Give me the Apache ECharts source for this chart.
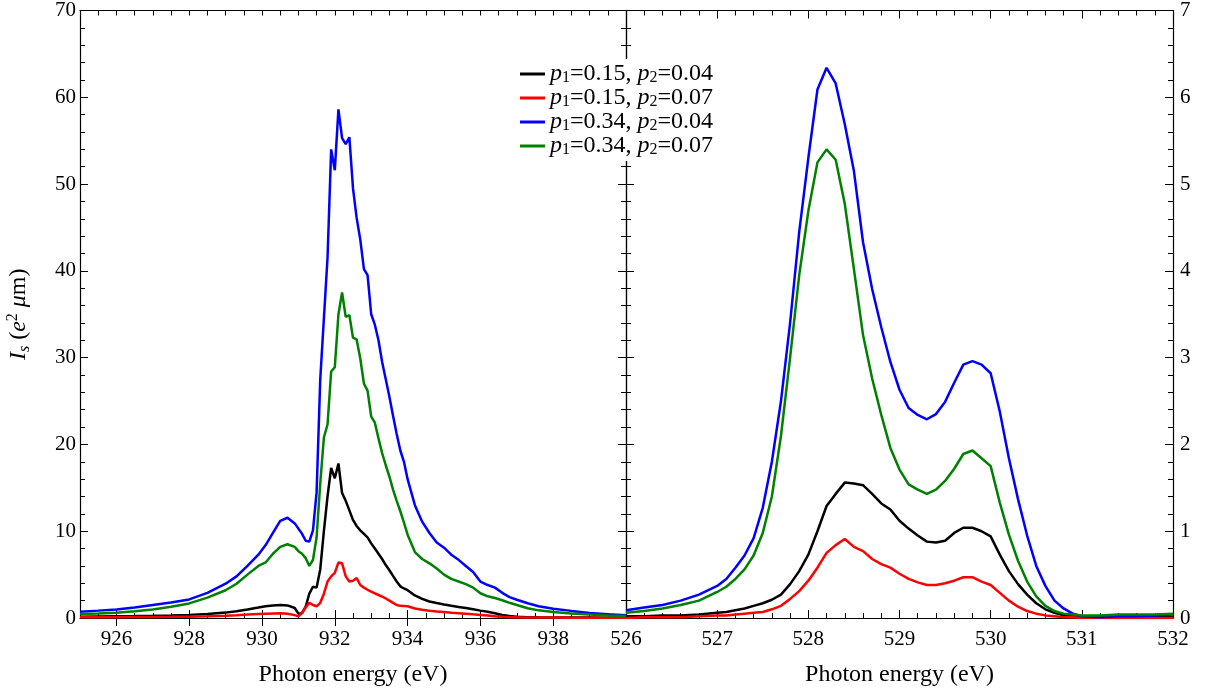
<!DOCTYPE html>
<html><head><meta charset="utf-8">
<script src="https://cdn.jsdelivr.net/npm/echarts@6/dist/echarts.min.js"></script>
<style>html,body{margin:0;padding:0;background:#fff}#c{width:1209px;height:693px}</style>
</head><body><div id="c"></div>
<script>
// ---------- data ----------
const seriesNames = ['p1=0.15, p2=0.04', 'p1=0.15, p2=0.07', 'p1=0.34, p2=0.04', 'p1=0.34, p2=0.07'];
const seriesColors = ['#000000', '#ff0000', '#0000ff', '#008000'];

// Left panel (Cu L-edge region)
const xLeft = [925, 925.5, 926, 926.5, 927, 927.5, 928, 928.5,
  929, 929.3, 929.6, 929.9,
  930.1, 930.3, 930.5, 930.7, 930.9,
  931.0, 931.1, 931.2, 931.3, 931.4, 931.5, 931.6, 931.7, 931.8, 931.9,
  932.0, 932.1, 932.2, 932.3, 932.4, 932.5, 932.6, 932.7, 932.8, 932.9,
  933.0, 933.1, 933.2, 933.3, 933.4, 933.5, 933.6, 933.7, 933.8, 933.9,
  934.0, 934.2, 934.4, 934.6, 934.8, 935.0, 935.2, 935.4, 935.6, 935.8, 936.0, 936.2, 936.4, 936.6, 936.8,
  937.0, 937.3, 937.6,
  938.0, 938.5, 939.0, 939.5, 940.0];

const blackLeft = [0.15, 0.18, 0.2, 0.22, 0.25, 0.3, 0.36, 0.47,
  0.62, 0.78, 0.98, 1.2,
  1.35, 1.45, 1.5, 1.45, 1.15,
  0.5, 0.55, 1.3, 2.8, 3.6, 3.5, 5.6, 10.0, 14.0, 17.3,
  16.1, 17.8, 14.4, 13.5, 12.4, 11.3, 10.6, 10.1, 9.7, 9.3,
  8.6, 8.0, 7.4, 6.8, 6.1, 5.5, 4.85, 4.2, 3.65, 3.4,
  3.2, 2.6, 2.2, 1.9, 1.72, 1.55, 1.4, 1.28, 1.15, 1.0, 0.85, 0.72, 0.55, 0.35, 0.22,
  0.15, 0.1, 0.08,
  0.07, 0.06, 0.05, 0.04, 0.04];

const redLeft = [0.08, 0.09, 0.1, 0.11, 0.12, 0.13, 0.15, 0.19,
  0.26, 0.32, 0.4, 0.47,
  0.5, 0.53, 0.55, 0.5, 0.33,
  0.18, 0.6, 1.2, 1.75, 1.5, 1.35, 1.75, 2.8, 4.2, 4.8,
  5.2, 6.4, 6.3, 4.8, 4.2, 4.3, 4.6, 3.8, 3.5, 3.25,
  3.05, 2.85, 2.65, 2.45, 2.25, 2.0, 1.75, 1.5, 1.4, 1.38,
  1.35, 1.1, 0.95, 0.84, 0.75, 0.68, 0.6, 0.55, 0.5, 0.42, 0.35, 0.28, 0.2, 0.14, 0.1,
  0.08, 0.06, 0.05,
  0.05, 0.04, 0.04, 0.03, 0.03];

const blueLeft = [0.73, 0.85, 0.99, 1.2, 1.49, 1.78, 2.14, 2.9,
  3.95, 4.8, 6.0, 7.3,
  8.4, 9.8, 11.2, 11.55, 10.9,
  10.3, 9.7, 8.9, 8.8, 10.1, 14.5, 27.5, 34.5, 41.5, 54.0,
  51.6, 58.6, 55.3, 54.6, 55.4, 49.5, 46.1, 43.6, 40.2, 39.5,
  35.0, 33.8, 32.0, 29.5, 27.5, 25.5, 23.3, 21.2, 19.3, 18.0,
  16.0, 13.0, 11.1, 9.8, 8.7, 8.1, 7.3, 6.7, 6.0, 5.3, 4.2, 3.8, 3.5, 2.9, 2.4,
  2.1, 1.7, 1.35,
  1.07, 0.82, 0.58, 0.43, 0.33];

const greenLeft = [0.46, 0.53, 0.61, 0.78, 0.99, 1.3, 1.68, 2.35,
  3.2, 3.95, 5.0, 6.0,
  6.4, 7.4, 8.2, 8.5, 8.2,
  7.7, 7.4, 6.9, 6.0, 6.7, 9.3, 15.5, 20.8, 22.3, 28.4,
  28.9, 35.0, 37.5, 34.7, 34.9, 32.3, 32.1, 29.9, 27.0, 26.2,
  23.2, 22.5, 20.7, 19.0, 17.6, 16.3, 14.8, 13.5, 12.3, 11.0,
  9.6, 7.6, 6.8, 6.3, 5.7, 5.0, 4.5, 4.2, 3.9, 3.5, 2.85, 2.5, 2.3, 2.05, 1.75,
  1.5, 1.12, 0.88,
  0.7, 0.53, 0.4, 0.3, 0.23];

// Right panel (O K-edge region)
const xRight = [526.0, 526.2, 526.4, 526.6, 526.8,
  527.0, 527.1, 527.2, 527.3, 527.4, 527.5, 527.6, 527.7, 527.8, 527.9,
  528.0, 528.1, 528.2, 528.3, 528.4, 528.5, 528.6, 528.7, 528.8, 528.9,
  529.0, 529.1, 529.2, 529.3, 529.4, 529.5, 529.6, 529.7, 529.8, 529.9,
  530.0, 530.1, 530.2, 530.3, 530.4, 530.5, 530.6, 530.7, 530.8, 530.9,
  531.0, 531.2, 531.4, 531.6, 531.8, 532.0];

const blackRight = [0.02, 0.02, 0.03, 0.03, 0.04,
  0.06, 0.07, 0.09, 0.11, 0.14, 0.17, 0.21, 0.27, 0.39, 0.54,
  0.73, 1.0, 1.29, 1.43, 1.56, 1.55, 1.53, 1.43, 1.32, 1.25,
  1.12, 1.03, 0.95, 0.88, 0.87, 0.89, 0.98, 1.04, 1.04, 1.0,
  0.94, 0.73, 0.54, 0.39, 0.27, 0.17, 0.1, 0.06, 0.03, 0.02,
  0.01, 0.01, 0.01, 0.01, 0.01, 0.01];

const redRight = [0.0, 0.01, 0.01, 0.01, 0.02,
  0.03, 0.03, 0.04, 0.05, 0.06, 0.07, 0.1, 0.14, 0.22, 0.31,
  0.43, 0.58, 0.75, 0.84, 0.91, 0.82, 0.77, 0.68, 0.62, 0.58,
  0.51, 0.45, 0.41, 0.38, 0.38, 0.4, 0.43, 0.47, 0.47, 0.42,
  0.38, 0.29, 0.2, 0.13, 0.08, 0.05, 0.03, 0.02, 0.01, 0.01,
  0.0, 0.0, 0.0, 0.0, 0.0, 0.0];

const blueRight = [0.09, 0.12, 0.15, 0.2, 0.27,
  0.37, 0.45, 0.58, 0.72, 0.92, 1.27, 1.8, 2.5, 3.4, 4.45,
  5.3, 6.09, 6.34, 6.16, 5.69, 5.15, 4.33, 3.79, 3.35, 2.95,
  2.63, 2.42, 2.34, 2.29, 2.35, 2.49, 2.71, 2.92, 2.96, 2.92,
  2.82, 2.38, 1.84, 1.37, 0.95, 0.6, 0.37, 0.2, 0.11, 0.05,
  0.02, 0.01, 0.02, 0.02, 0.03, 0.04];

const greenRight = [0.06, 0.08, 0.11, 0.15, 0.2,
  0.3, 0.36, 0.45, 0.56, 0.72, 0.98, 1.4, 2.1, 3.0, 3.95,
  4.69, 5.25, 5.4, 5.28, 4.77, 4.02, 3.26, 2.76, 2.34, 1.96,
  1.71, 1.54, 1.48, 1.43, 1.48, 1.58, 1.72, 1.89, 1.93, 1.84,
  1.75, 1.33, 0.96, 0.66, 0.42, 0.25, 0.14, 0.08, 0.05, 0.04,
  0.03, 0.03, 0.04, 0.04, 0.04, 0.05];

const leftXTickLabels = [926, 928, 930, 932, 934, 936, 938];
const rightXTickLabels = [526, 527, 528, 529, 530, 531, 532];

// ---------- chart ----------
const FONT = 'Liberation Serif';
const zip = (xs, ys) => xs.map((x, i) => [x, ys[i]]);
const leftData = [blackLeft, redLeft, blueLeft, greenLeft];
const rightData = [blackRight, redRight, blueRight, greenRight];

const lineAx = { show: true, onZero: false, lineStyle: { color: '#000', width: 1.2 } };
const tickSt = { color: '#000', width: 1 };

function legendFmt(name) {
  const m = name.match(/p1=([\d.]+), p2=([\d.]+)/);
  return '{i|p}{s|1}{r|=' + m[1] + ', }{i|p}{s|2}{r|=' + m[2] + '}';
}

const series = [];
for (let k = 0; k < 4; k++) {
  series.push({
    type: 'line', name: seriesNames[k], data: zip(xLeft, leftData[k]),
    xAxisIndex: 0, yAxisIndex: 0, symbol: 'none', clip: true,
    lineStyle: { color: seriesColors[k], width: 2.5 }, itemStyle: { color: seriesColors[k] }
  });
}
for (let k = 0; k < 4; k++) {
  series.push({
    type: 'line', name: seriesNames[k], data: zip(xRight, rightData[k]),
    xAxisIndex: 4, yAxisIndex: 3, symbol: 'none', clip: true,
    lineStyle: { color: seriesColors[k], width: 2.5 }, itemStyle: { color: seriesColors[k] }
  });
}

const xName = 'Photon energy (eV)';
const xNameStyle = { fontFamily: FONT, fontSize: 24, color: '#000' };
const lblStyle = { fontFamily: FONT, fontSize: 21, color: '#000' };

const option = {
  animation: false,
  backgroundColor: '#fff',
  grid: [
    { left: 80, top: 8, width: 546, height: 610 },
    { left: 626, top: 8, width: 547, height: 610 }
  ],
  legend: {
    data: seriesNames, left: 516, top: 59, orient: 'vertical', padding: [3, 6, 3, 4],
    backgroundColor: '#fff', z: 10,
    itemWidth: 25, itemHeight: 3, itemGap: 0, icon: 'rect',
    formatter: legendFmt,
    textStyle: {
      fontFamily: FONT, fontSize: 24, color: '#000', lineHeight: 23.3,
      rich: {
        i: { fontFamily: FONT, fontSize: 24, fontStyle: 'italic', color: '#000' },
        r: { fontFamily: FONT, fontSize: 24, color: '#000' },
        s: { fontFamily: FONT, fontSize: 16, color: '#000', verticalAlign: 'bottom', lineHeight: 16 }
      }
    }
  },
  xAxis: [
    { // 0 left bottom
      gridIndex: 0, type: 'value', position: 'bottom', min: 925, max: 940, interval: 0.5,
      axisLine: lineAx, splitLine: { show: false },
      axisTick: { inside: true, length: 5, lineStyle: tickSt },
      axisLabel: { customValues: leftXTickLabels, margin: 11, ...lblStyle },
      name: xName, nameLocation: 'middle', nameGap: 45, nameTextStyle: xNameStyle
    },
    { // 1 left bottom major ticks
      gridIndex: 0, type: 'value', position: 'bottom', min: 925, max: 940,
      axisLine: { show: false }, splitLine: { show: false }, axisLabel: { show: false },
      axisTick: { inside: true, length: 8, lineStyle: tickSt, customValues: leftXTickLabels }
    },
    { // 2 left top
      gridIndex: 0, type: 'value', position: 'top', min: 925, max: 940, interval: 0.5,
      axisLine: lineAx, splitLine: { show: false }, axisLabel: { show: false },
      axisTick: { inside: true, length: 5, lineStyle: tickSt }
    },
    { // 3 left top major ticks
      gridIndex: 0, type: 'value', position: 'top', min: 925, max: 940,
      axisLine: { show: false }, splitLine: { show: false }, axisLabel: { show: false },
      axisTick: { inside: true, length: 8, lineStyle: tickSt, customValues: leftXTickLabels }
    },
    { // 4 right bottom
      gridIndex: 1, type: 'value', position: 'bottom', min: 526, max: 532, interval: 1,
      axisLine: lineAx, splitLine: { show: false },
      axisTick: { inside: true, length: 8, lineStyle: tickSt },
      minorTick: { show: true, splitNumber: 5, length: 5, lineStyle: tickSt },
      axisLabel: { customValues: rightXTickLabels, margin: 11, ...lblStyle },
      name: xName, nameLocation: 'middle', nameGap: 45, nameTextStyle: xNameStyle
    },
    { // 5 right top
      gridIndex: 1, type: 'value', position: 'top', min: 526, max: 532, interval: 1,
      axisLine: lineAx, splitLine: { show: false }, axisLabel: { show: false },
      axisTick: { inside: true, length: 8, lineStyle: tickSt },
      minorTick: { show: true, splitNumber: 5, length: 5, lineStyle: tickSt }
    }
  ],
  yAxis: [
    { // 0 left panel left
      gridIndex: 0, type: 'value', position: 'left', min: 0, max: 70, interval: 10,
      axisLine: lineAx, splitLine: { show: false },
      axisTick: { inside: true, length: 8, lineStyle: tickSt },
      minorTick: { show: true, splitNumber: 5, length: 5, lineStyle: tickSt },
      axisLabel: { margin: 4, ...lblStyle },
      name: '{i|I}{sb|s}{r| (}{i|e}{sp|2}{r| }{i|μ}{r|m)}',
      nameLocation: 'middle', nameRotate: 90, nameGap: 47,
      nameTextStyle: {
        fontFamily: FONT, fontSize: 24, color: '#000', lineHeight: 28,
        rich: {
          i: { fontFamily: FONT, fontSize: 24, fontStyle: 'italic', color: '#000' },
          r: { fontFamily: FONT, fontSize: 24, color: '#000' },
          sb: { fontFamily: FONT, fontSize: 16, fontStyle: 'italic', color: '#000', verticalAlign: 'bottom', lineHeight: 17 },
          sp: { fontFamily: FONT, fontSize: 16, color: '#000', verticalAlign: 'top', lineHeight: 17 }
        }
      }
    },
    { // 1 left panel right (divider)
      gridIndex: 0, type: 'value', position: 'right', min: 0, max: 70, interval: 10,
      axisLine: lineAx, splitLine: { show: false }, axisLabel: { show: false },
      axisTick: { inside: true, length: 8, lineStyle: tickSt },
      minorTick: { show: true, splitNumber: 5, length: 5, lineStyle: tickSt }
    },
    { // 2 right panel left (divider)
      gridIndex: 1, type: 'value', position: 'left', min: 0, max: 7, interval: 1,
      axisLine: lineAx, splitLine: { show: false }, axisLabel: { show: false },
      axisTick: { inside: true, length: 8, lineStyle: tickSt },
      minorTick: { show: true, splitNumber: 5, length: 5, lineStyle: tickSt }
    },
    { // 3 right panel right
      gridIndex: 1, type: 'value', position: 'right', min: 0, max: 7, interval: 1,
      axisLine: lineAx, splitLine: { show: false },
      axisTick: { inside: true, length: 8, lineStyle: tickSt },
      minorTick: { show: true, splitNumber: 5, length: 5, lineStyle: tickSt },
      axisLabel: { margin: 7, ...lblStyle }
    }
  ],
  series: series
};

const chart = echarts.init(document.getElementById('c'), null, { renderer: 'canvas' });
chart.setOption(option);
</script>
</body></html>
